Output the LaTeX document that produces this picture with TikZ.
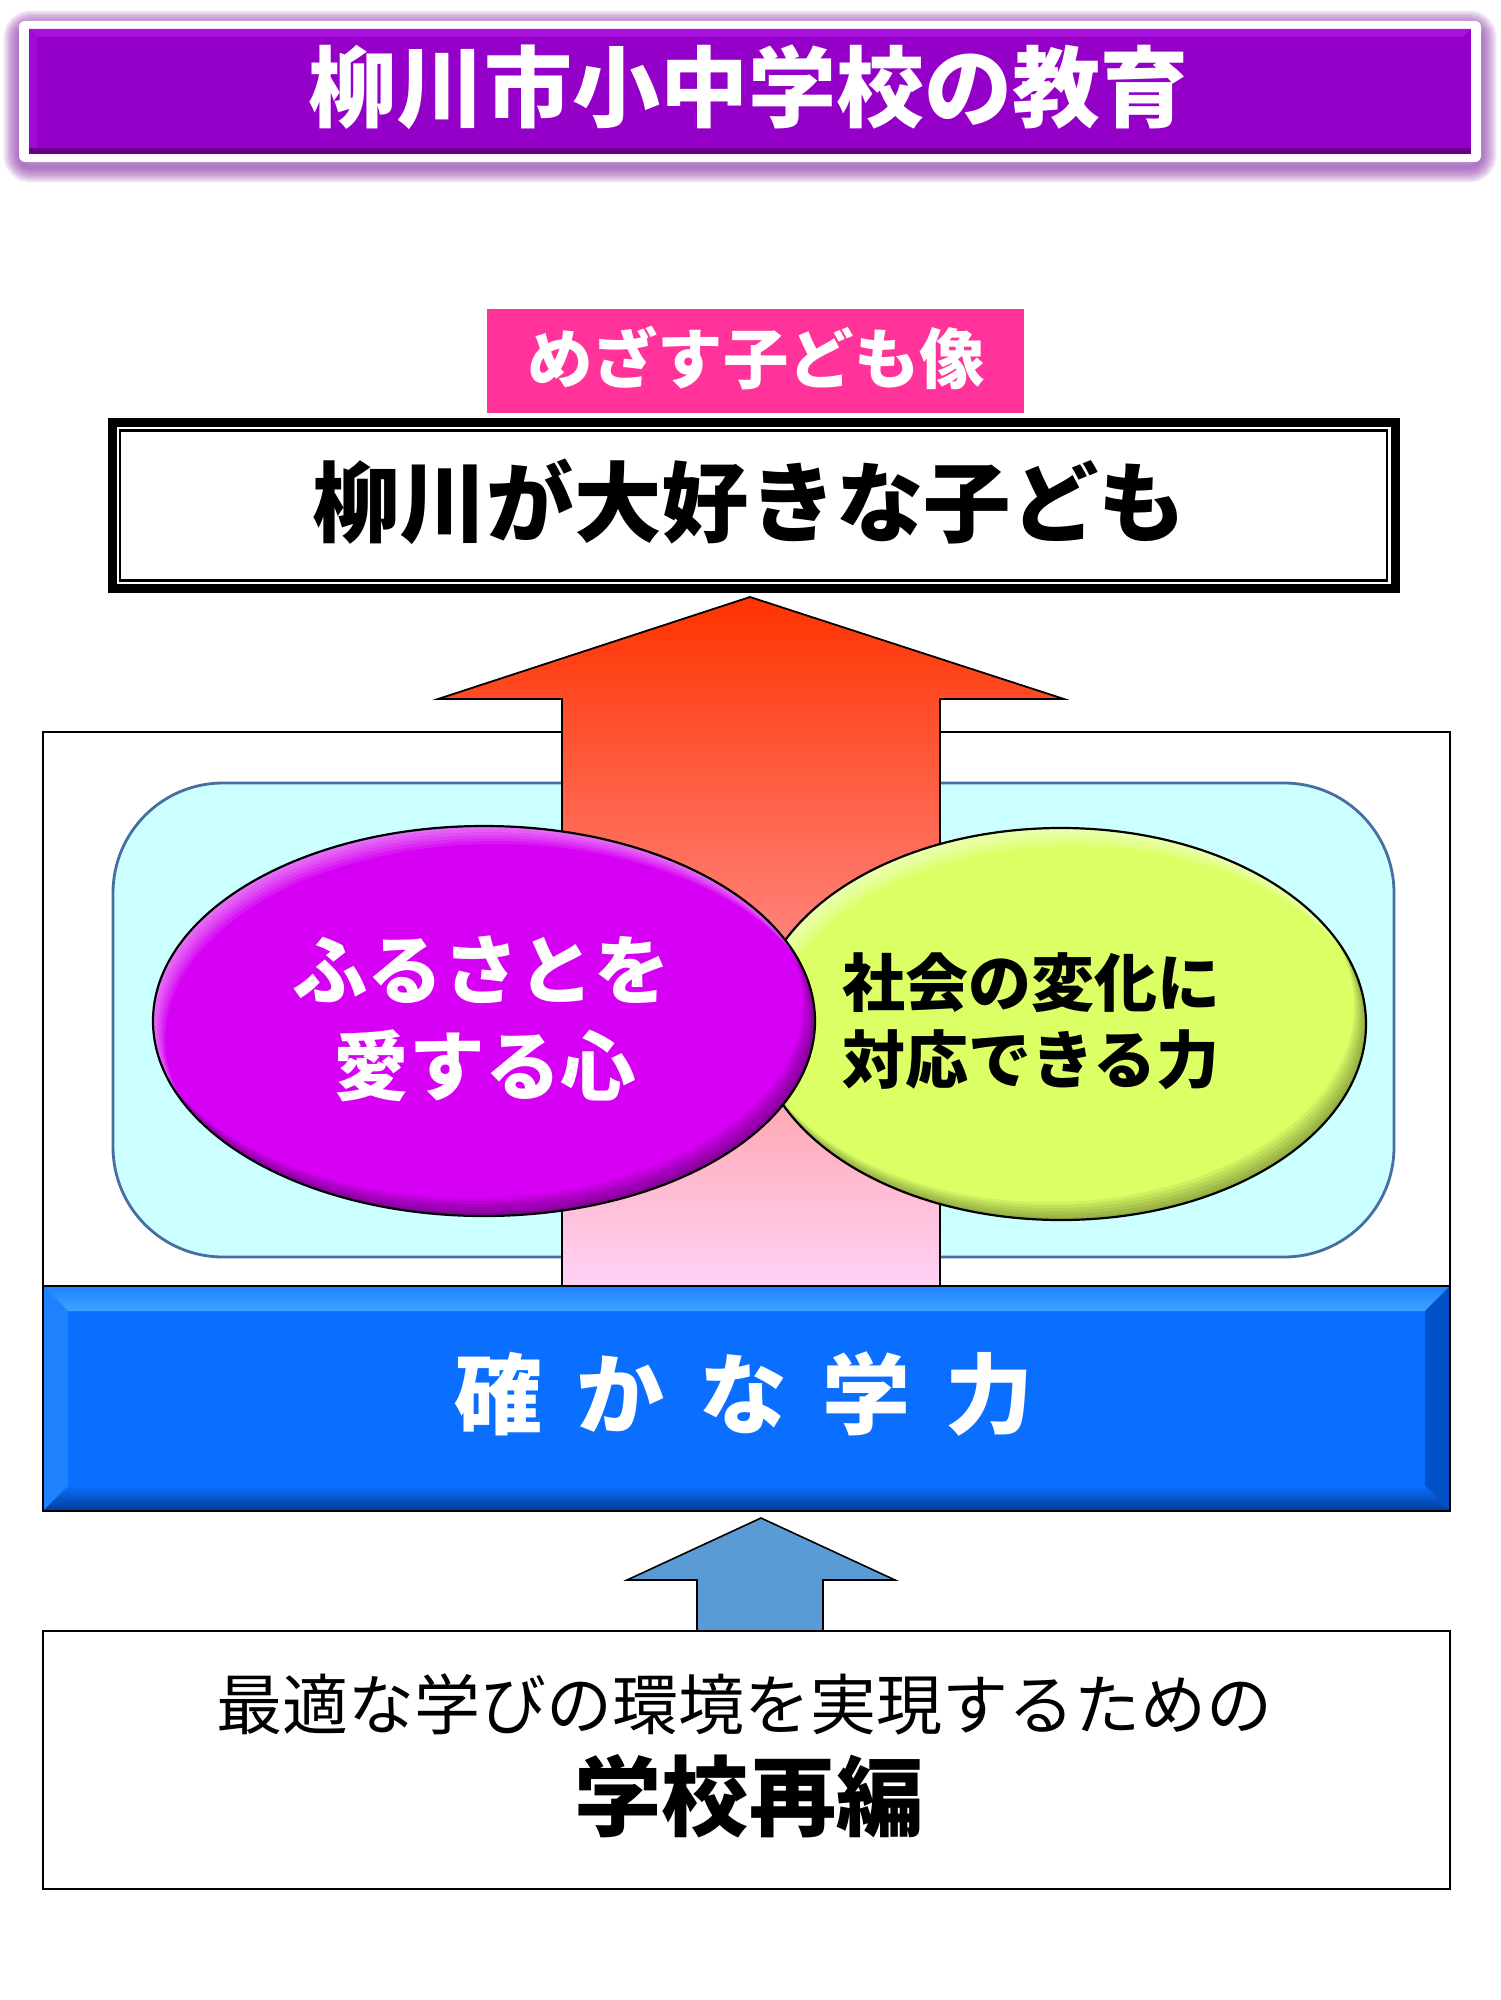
\documentclass[tikz,border=0pt]{standalone}
\usepackage{fontspec}
\setmainfont{Noto Sans CJK JP}
\usetikzlibrary{calc}
\definecolor{ttlpurple}{RGB}{148,0,200}
\definecolor{ttlpurplelt}{RGB}{168,16,220}
\definecolor{ttlpurpledk}{RGB}{105,0,140}
\definecolor{glowc}{RGB}{130,40,165}
\definecolor{pinkbox}{RGB}{255,51,153}
\definecolor{cyanfill}{RGB}{204,255,255}
\definecolor{cyanline}{RGB}{70,110,160}
\definecolor{magfill}{RGB}{214,0,245}
\definecolor{ylwfill}{RGB}{220,255,102}
\definecolor{barblue}{RGB}{10,110,255}
\definecolor{barbluelt}{RGB}{60,165,255}
\definecolor{barbluemid}{RGB}{30,130,255}
\definecolor{barbluedk}{RGB}{0,80,200}
\definecolor{barbluedd}{RGB}{0,60,150}
\definecolor{arrblue}{RGB}{91,155,213}
\definecolor{arrtop}{RGB}{255,51,0}
\definecolor{arrmid}{RGB}{255,140,135}
\definecolor{arrbot}{RGB}{255,210,245}
\tikzset{
  txt/.style={inner sep=0pt, outer sep=0pt, align=center},
  fs/.style={font=\bfseries\fontsize{#1}{#1}\selectfont},
}
\begin{document}
\begin{tikzpicture}[x=0.5pt,y=-0.5pt]
\path[use as bounding box, fill=white] (0,0) rectangle (1500,2000);

% ---------- title ----------
\foreach \k in {1,...,7}
  \draw[glowc, opacity=0.13, line width=2.2*\k pt, rounded corners=6pt] (19,26) rectangle (1481,167);
\fill[white, rounded corners=3pt] (19,21) rectangle (1481,162);
\fill[ttlpurple] (29,29) rectangle (1471,154);
\fill[ttlpurplelt] (29,29) -- (1471,29) -- (1463,37) -- (37,37) -- cycle;
\fill[ttlpurplelt!60!ttlpurple] (29,29) -- (37,37) -- (37,148) -- (29,154) -- cycle;
\fill[ttlpurpledk] (29,148) rectangle (1471,154);
\node[txt, fs=44, text=white] (title) at (748,87) {柳川市小中学校の教育};

% ---------- goal label ----------
\node[txt, fs=32.7, text=white, fill=pinkbox, minimum width=268.5pt, minimum height=52pt] (goal) at (755.5,361) {};
\node[txt, fs=32.7, text=white] (goaltxt) at (756,358) {めざす子ども像};

% ---------- double box ----------
\draw[line width=4.5pt] (112,422.5) rectangle (1395,588.5);
\draw[line width=1.2pt] (120,430.5) rectangle (1387,580.5);
\node[txt, fs=43.7] (child) at (749,502) {柳川が大好きな子ども};

% ---------- outer frame ----------
\draw[line width=1.4pt, fill=white] (43,732) rectangle (1450,1511);

% ---------- cyan rounded box ----------
\draw[cyanline, line width=1.4pt, fill=cyanfill, rounded corners=55pt] (113,783) rectangle (1394,1257);

% ---------- red arrow ----------
\draw[line width=0.9pt, top color=arrtop, middle color=arrmid, bottom color=arrbot]
  (750,597) -- (1064,699) -- (940,699) -- (940,1286) -- (562,1286) -- (562,699) -- (438,699) -- cycle;

% ---------- yellow ellipse ----------
\coordinate (yc) at (1061,1024);
\fill[ylwfill] (yc) ellipse [x radius=152.5pt, y radius=98pt];
\begin{scope}
  \clip (yc) ellipse [x radius=152.5pt, y radius=98pt];
  \foreach \k in {1,...,6}
    \fill[white, opacity=0.10, even odd rule] (yc) ellipse [x radius=152.5pt, y radius=98pt]
      ([shift={(2*\k,3*\k)}]yc) ellipse [x radius=152.5pt, y radius=98pt];
  \foreach \k in {1,...,6}
    \fill[black, opacity=0.06, even odd rule] (yc) ellipse [x radius=152.5pt, y radius=98pt]
      ([shift={(-2*\k,-3*\k)}]yc) ellipse [x radius=152.5pt, y radius=98pt];
\end{scope}
\draw[line width=1.1pt] (yc) ellipse [x radius=152.5pt, y radius=98pt];

% ---------- magenta ellipse ----------
\coordinate (mc) at (484,1021);
\fill[magfill] (mc) ellipse [x radius=165.5pt, y radius=97.5pt];
\begin{scope}
  \clip (mc) ellipse [x radius=165.5pt, y radius=97.5pt];
  \foreach \k in {1,...,6}
    \fill[white, opacity=0.09, even odd rule] (mc) ellipse [x radius=165.5pt, y radius=97.5pt]
      ([shift={(2*\k,3*\k)}]mc) ellipse [x radius=165.5pt, y radius=97.5pt];
  \foreach \k in {1,...,6}
    \fill[black, opacity=0.07, even odd rule] (mc) ellipse [x radius=165.5pt, y radius=97.5pt]
      ([shift={(-2*\k,-3*\k)}]mc) ellipse [x radius=165.5pt, y radius=97.5pt];
\end{scope}
\draw[line width=1.1pt] (mc) ellipse [x radius=165.5pt, y radius=97.5pt];

\node[txt, fs=37.8, text=white] (furu1) at (481,970) {ふるさとを};
\node[txt, fs=37.8, text=white] (furu2) at (485,1066) {愛する心};
\node[txt, fs=31.5] (soc1) at (1031,983) {社会の変化に};
\node[txt, fs=31.5] (soc2) at (1031,1060) {対応できる力};

% ---------- blue bar ----------
\fill[barblue] (43,1286) rectangle (1450,1511);
\shade[top color=barbluemid, bottom color=barbluelt] (43,1286) -- (1450,1286) -- (1425,1311) -- (68,1311) -- cycle;
\fill[barbluemid] (43,1286) -- (68,1311) -- (68,1486) -- (43,1511) -- cycle;
\fill[barbluedk] (1450,1286) -- (1425,1311) -- (1425,1486) -- (1450,1511) -- cycle;
\shade[top color=barblue, bottom color=barbluedd] (43,1511) -- (68,1486) -- (1425,1486) -- (1450,1511) -- cycle;
\draw[line width=1.3pt] (43,1286) rectangle (1450,1511);
\node[txt, fs=44, text=white] (ability) at (744,1394) {確\hspace{17.5pt}か\hspace{17.5pt}な\hspace{17.5pt}学\hspace{17.5pt}力};

% ---------- blue arrow ----------
\draw[line width=0.8pt, fill=arrblue]
  (761,1518) -- (895,1580) -- (823,1580) -- (823,1631) -- (697,1631) -- (697,1580) -- (627,1580) -- cycle;

% ---------- bottom box ----------
\draw[line width=1.4pt, fill=white] (43,1631) rectangle (1450,1889);
\node[txt, font=\fontsize{33}{33}\selectfont] (env) at (744,1704) {最適な学びの環境を実現するための};
\node[txt, fs=43.6] (reorg) at (749,1796) {学校再編};
\end{tikzpicture}
\end{document}
